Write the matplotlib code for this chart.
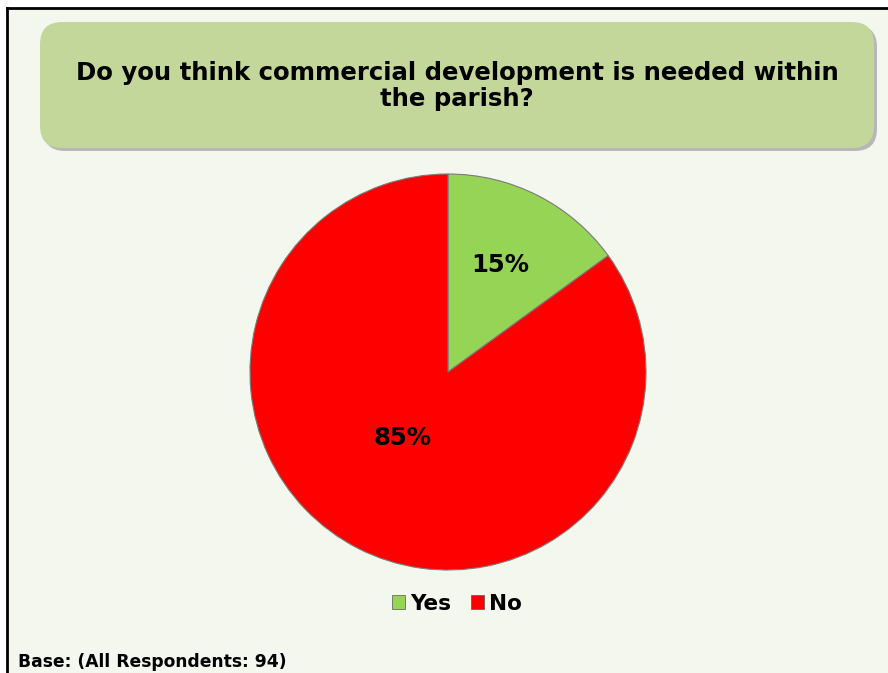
import matplotlib
matplotlib.use("Agg")
import matplotlib.pyplot as plt
from matplotlib.patches import FancyBboxPatch, Rectangle
from matplotlib.lines import Line2D

# Survey data
categories = ["Yes", "No"]
shares = [15, 85]
colors = ["#96D456", "#FF0000"]
title = "Do you think commercial development is needed within\nthe parish?"
footer = "Base: (All Respondents: 94)"

W, H = 888, 673
fig = plt.figure(figsize=(W / 100, H / 100), dpi=100)
fig.patch.set_facecolor("white")

def px(x, y):
    return x / W, 1 - y / H

# panel background and frame
x0, y0 = px(7, 673)
fig.patches.append(Rectangle((x0, y0), 1 - x0, px(0, 8)[1] - y0,
                             transform=fig.transFigure, facecolor="#F4F7EE",
                             edgecolor="none", zorder=-1))
fig.lines.append(Line2D([px(7, 0)[0], 1], [px(0, 8)[1]] * 2,
                        transform=fig.transFigure, color="black", lw=2))
fig.lines.append(Line2D([px(7, 0)[0]] * 2, [0, px(0, 8)[1]],
                        transform=fig.transFigure, color="black", lw=2))

# title box with soft shadow
bx, by = px(40, 148)
bw = (874 - 40) / W
bh = (148 - 22) / H
shadow = FancyBboxPatch((bx + 3 / W, by - 3 / H), bw, bh,
                        boxstyle="round,pad=0,rounding_size=0.025",
                        transform=fig.transFigure, facecolor="#A8A8A8",
                        edgecolor="none", alpha=0.8, zorder=1,
                        mutation_aspect=W / H)
fig.patches.append(shadow)
box = FancyBboxPatch((bx, by), bw, bh,
                     boxstyle="round,pad=0,rounding_size=0.025",
                     transform=fig.transFigure, facecolor="#C4D79B",
                     edgecolor="none", zorder=2, mutation_aspect=W / H)
fig.patches.append(box)
fig.text(*px(457, 86), title, ha="center", va="center", fontsize=17.6,
         fontweight="bold", family="DejaVu Sans", linespacing=1.12, zorder=3)

# pie
cx, cy, r = 448, 372, 198
ax = fig.add_axes([(cx - r) / W, 1 - (cy + r) / H, 2 * r / W, 2 * r / H])
ax.set_zorder(5)
ax.set_facecolor("none")
wedges, texts = ax.pie(shares, colors=colors, startangle=90, counterclock=False,
                       radius=1, wedgeprops=dict(edgecolor="#7A7A7A", linewidth=0.8))
ax.set_xlim(-1, 1)
ax.set_ylim(-1, 1)
ax.set_aspect("equal")
ax.axis("off")

label_pos = [(500, 265), (402, 438)]
for (lx, ly), v in zip(label_pos, shares):
    fig.text(*px(lx, ly), f"{v}%", ha="center", va="center", fontsize=17.5,
             fontweight="bold", family="DejaVu Sans", zorder=6)

# legend
leg = fig.legend(wedges, categories, loc="center", bbox_to_anchor=px(457, 604),
                 ncol=2, frameon=False, prop=dict(size=15.5, weight="bold"),
                 handlelength=0.62, handleheight=0.62, handletextpad=0.25,
                 columnspacing=0.9)
for h in leg.legend_handles:
    h.set_edgecolor("#555555")
    h.set_linewidth(0.5)

fig.text(*px(18, 662), footer, ha="left", va="center", fontsize=12.3,
         fontweight="bold", family="DejaVu Sans")

fig.savefig("out.png", dpi=100, facecolor=fig.get_facecolor())
